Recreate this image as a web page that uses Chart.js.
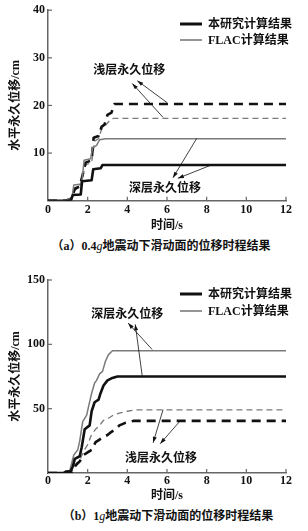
<!DOCTYPE html>
<html>
<head>
<meta charset="utf-8">
<script src="https://cdn.jsdelivr.net/npm/chart.js@4.4.0/dist/chart.umd.min.js"></script>
<style>
  body { margin: 0; background: #fff; width: 308px; height: 531px; position: relative; overflow: hidden;
         font-family: 'Liberation Serif', 'Noto Sans CJK SC', serif; color: #111; }
  canvas { position: absolute; left: 0; }
  #chartA { top: 0; }
  #chartB { top: 262px; }
  .cap { position: absolute; width: 308px; text-align: center; font-size: 12px; line-height: 16px; font-weight: bold; }
</style>
</head>
<body>
<canvas id="chartA" width="308" height="234"></canvas>
<div class="cap" style="left:7px; top:238px;">（a）0.4<i style="font-weight:normal">g</i>地震动下滑动面的位移时程结果</div>
<canvas id="chartB" width="308" height="242"></canvas>
<div class="cap" style="left:14px; top:508px;">（b）1<i style="font-weight:normal">g</i>地震动下滑动面的位移时程结果</div>
<script>
// ---- (a) 0.4g ----
const timeA_oursDeep = [0, 1.15, 1.25, 1.65, 1.72, 2.2, 2.28, 2.65, 2.75, 12];
const valA_oursDeep  = [0, 0, 1.2, 1.3, 4.1, 4.3, 6.6, 6.8, 7.5, 7.5];
const timeA_flacDeep = [0, 0.85, 1.0, 1.2, 1.3, 1.7, 1.82, 2.15, 2.25, 2.45, 2.6, 2.9, 12];
const valA_flacDeep  = [0, 0, 0.3, 0.4, 3.3, 3.5, 8.5, 8.8, 11.1, 11.6, 12.8, 13.0, 13.0];
const timeA_oursShallow = [0, 0.9, 1.2, 1.35, 1.6, 1.75, 1.9, 2.2, 2.3, 2.55, 2.7, 2.85, 3.0, 3.2, 3.35, 12];
const valA_oursShallow  = [0, 0, 0.5, 2.5, 3.0, 5.5, 8.0, 8.5, 13.2, 13.6, 15.5, 16.0, 18.0, 18.5, 20.3, 20.3];
const timeA_flacShallow = [0, 0.9, 1.2, 1.35, 1.6, 1.75, 1.9, 2.2, 2.35, 2.55, 2.7, 2.9, 3.1, 3.3, 12];
const valA_flacShallow  = [0, 0, 0.4, 2.2, 2.8, 5.0, 7.5, 8.0, 12.5, 13.0, 15.0, 15.8, 16.8, 17.3, 17.3];

// ---- (b) 1g ----
const timeB_oursDeep = [0, 0.8, 0.9, 1.15, 1.25, 1.35, 1.6, 1.7, 1.85, 2.1, 2.2, 2.35, 2.55, 2.65, 2.8, 3.0, 3.2, 3.5, 12];
const valB_oursDeep  = [0, 0, 1.0, 1.5, 5, 11, 13, 20, 34, 37, 48, 55, 57, 62, 68, 72, 73.6, 75, 75];
const timeB_flacDeep = [0, 0.8, 0.9, 1.1, 1.2, 1.3, 1.5, 1.6, 1.75, 1.95, 2.05, 2.2, 2.35, 2.45, 2.6, 2.75, 2.9, 3.05, 3.25, 12];
const valB_flacDeep  = [0, 0, 1.5, 2, 8, 14, 18, 25, 40, 45, 52, 62, 70, 72, 77, 79, 87, 92, 95, 95];
const timeB_oursShallow = [0, 0.9, 1.2, 1.4, 1.6, 1.8, 2.0, 2.2, 2.4, 2.6, 2.8, 3.0, 3.2, 3.4, 3.6, 3.9, 4.3, 12];
const valB_oursShallow  = [0, 0, 1, 6, 9, 14, 16, 18, 24, 26, 28, 29.5, 32, 34, 37, 39, 40.5, 40.5];
const timeB_flacShallow = [0, 0.9, 1.2, 1.4, 1.6, 1.8, 2.0, 2.2, 2.4, 2.6, 2.8, 3.0, 3.3, 3.6, 4.0, 4.4, 12];
const valB_flacShallow  = [0, 0, 1, 7, 10, 17, 22, 30, 34, 37, 41, 42, 45, 46.5, 48, 49, 49];

const xTicks = [0, 2, 4, 6, 8, 10, 12];
const legendLabels = ['本研究计算结果', 'FLAC计算结果'];
const xTitle = '时间/s';
const yTitle = '水平永久位移/cm';

const BLACK = '#111';
const GRAY = '#7a7a7a';
const AXIS = '#666';
const LATIN = "'Liberation Serif', 'Noto Sans CJK SC', serif";

function pts(t, v) { return t.map((x, i) => ({ x: x, y: v[i] })); }

function series(label, t, v, color, width, dash) {
  return { label: label, data: pts(t, v), borderColor: color, borderWidth: width,
           borderDash: dash, pointRadius: 0, tension: 0, fill: false,
           borderJoinStyle: 'round', borderCapStyle: 'butt' };
}

// inward ticks, legend and arrow notes
const extras = {
  id: 'extras',
  afterDraw(chart, args, o) {
    const ctx = chart.ctx, xs = chart.scales.x, ys = chart.scales.y;
    ctx.save();
    ctx.strokeStyle = AXIS; ctx.lineWidth = 1.2;
    xs.ticks.forEach(t => {
      if (t.value === 0) return;
      const px = xs.getPixelForValue(t.value);
      ctx.beginPath(); ctx.moveTo(px, ys.bottom); ctx.lineTo(px, ys.bottom - 4); ctx.stroke();
    });
    ys.ticks.forEach(t => {
      if (t.value === 0) return;
      const py = ys.getPixelForValue(t.value);
      ctx.beginPath(); ctx.moveTo(xs.left, py); ctx.lineTo(xs.left + 4, py); ctx.stroke();
    });

    // legend
    const lg = o.legend;
    [[BLACK, 3], [GRAY, 1.6]].forEach((s, i) => {
      const y = lg.y + i * lg.gap;
      ctx.strokeStyle = s[0]; ctx.lineWidth = s[1];
      ctx.beginPath(); ctx.moveTo(lg.x, y); ctx.lineTo(lg.x + 22, y); ctx.stroke();
      ctx.fillStyle = BLACK; ctx.font = 'bold 12px ' + LATIN;
      ctx.textAlign = 'left'; ctx.textBaseline = 'middle';
      ctx.fillText(legendLabels[i], lg.x + 28, y + 1);
    });

    // notes with arrows
    o.notes.forEach(n => {
      ctx.fillStyle = BLACK; ctx.font = 'bold 12px ' + LATIN;
      ctx.textAlign = 'center'; ctx.textBaseline = 'middle';
      ctx.fillText(n.text, xs.getPixelForValue(n.at[0]), ys.getPixelForValue(n.at[1]));
      n.arrows.forEach(a => {
        const x0 = xs.getPixelForValue(a[0]), y0 = ys.getPixelForValue(a[1]);
        const x1 = xs.getPixelForValue(a[2]), y1 = ys.getPixelForValue(a[3]);
        const ang = Math.atan2(y1 - y0, x1 - x0);
        ctx.strokeStyle = BLACK; ctx.lineWidth = 0.8;
        ctx.beginPath(); ctx.moveTo(x0, y0); ctx.lineTo(x1, y1); ctx.stroke();
        ctx.beginPath();
        ctx.moveTo(x1, y1);
        ctx.lineTo(x1 - 6 * Math.cos(ang) + 2 * Math.sin(ang), y1 - 6 * Math.sin(ang) - 2 * Math.cos(ang));
        ctx.lineTo(x1 - 6 * Math.cos(ang) - 2 * Math.sin(ang), y1 - 6 * Math.sin(ang) + 2 * Math.cos(ang));
        ctx.closePath(); ctx.fill();
      });
    });
    ctx.restore();
  }
};

function makeChart(id, datasets, yMax, yStep, geo, extraOpts) {
  return new Chart(document.getElementById(id), {
    type: 'line',
    data: { datasets: datasets },
    options: {
      responsive: false,
      animation: false,
      layout: { padding: { top: geo.top, right: 22, left: 0, bottom: 1 } },
      plugins: { legend: { display: false }, tooltip: { enabled: false }, extras: extraOpts },
      scales: {
        x: {
          type: 'linear', min: 0, max: 12,
          afterBuildTicks: s => { s.ticks = xTicks.map(v => ({ value: v })); },
          afterFit: s => { s.height = geo.xHeight; },
          grid: { display: false, drawTicks: false },
          border: { display: true, color: AXIS, width: 1.5 },
          ticks: { color: BLACK, padding: geo.xPad, font: { family: LATIN, size: 12, weight: 'bold' } },
          title: { display: true, text: xTitle, color: BLACK, padding: 0,
                   font: { family: LATIN, size: 12, weight: 'bold' } }
        },
        y: {
          min: 0, max: yMax,
          afterFit: s => { s.width = 48; },
          grid: { display: false, drawTicks: false },
          border: { display: true, color: AXIS, width: 1.5 },
          ticks: { stepSize: yStep, color: BLACK, padding: 3,
                   callback: v => (v === 0 ? '' : v),
                   font: { family: LATIN, size: 12, weight: 'bold' } },
          title: { display: true, text: yTitle, color: BLACK, padding: { top: 9, bottom: 0 },
                   font: { family: LATIN, size: 12, weight: 'bold' } }
        }
      }
    },
    plugins: [extras]
  });
}

makeChart('chartA', [
  series('本研究计算结果', timeA_oursDeep, valA_oursDeep, BLACK, 2.6, []),
  series('FLAC计算结果', timeA_flacDeep, valA_flacDeep, GRAY, 1.5, []),
  series('本研究计算结果（浅层）', timeA_oursShallow, valA_oursShallow, BLACK, 2.6, [9, 6]),
  series('FLAC计算结果（浅层）', timeA_flacShallow, valA_flacShallow, GRAY, 1.3, [6, 4])
], 40, 10, { top: 10, xHeight: 32.3, xPad: 2 }, {
  legend: { x: 180, y: 24, gap: 16 },
  notes: [
    { text: '浅层永久位移', at: [4.1, 27.3], arrows: [[6.0, 20.6, 4.5, 25.2], [5.8, 17.5, 4.25, 24.6]] },
    { text: '深层永久位移', at: [5.9, 2.4], arrows: [[7.5, 13.1, 6.3, 4.8], [8.3, 7.6, 6.55, 4.7]] }
  ]
});

makeChart('chartB', [
  series('本研究计算结果', timeB_oursDeep, valB_oursDeep, BLACK, 2.6, []),
  series('FLAC计算结果', timeB_flacDeep, valB_flacDeep, GRAY, 1.5, []),
  series('本研究计算结果（浅层）', timeB_oursShallow, valB_oursShallow, BLACK, 2.6, [9, 6]),
  series('FLAC计算结果（浅层）', timeB_flacShallow, valB_flacShallow, GRAY, 1.3, [6, 4])
], 150, 50, { top: 18, xHeight: 30, xPad: 0.5 }, {
  legend: { x: 180, y: 32, gap: 17 },
  notes: [
    { text: '深层永久位移', at: [4.0, 122.9], arrows: [[5.25, 96.0, 4.04, 116.5], [4.75, 75.5, 4.4, 115.5]] },
    { text: '浅层永久位移', at: [5.7, 10.9], arrows: [[5.8, 49.2, 5.3, 23.5], [6.67, 40.6, 5.66, 22.8]] }
  ]
});
</script>
</body>
</html>
